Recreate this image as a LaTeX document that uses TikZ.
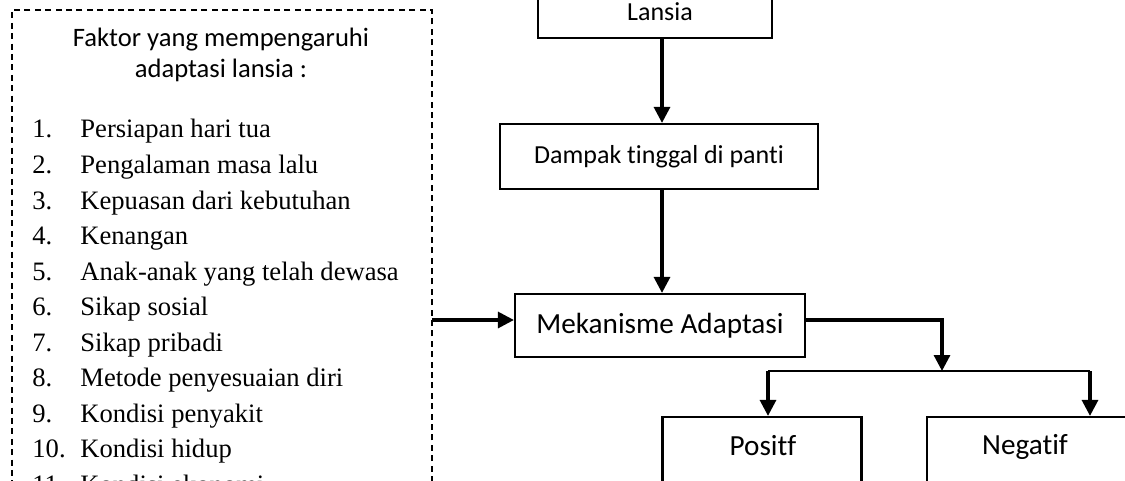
\documentclass[tikz,border=0pt]{standalone}
\usepackage{fontspec}
\setmainfont{Liberation Serif}
\newfontfamily\calfont[Ligatures={NoCommon}]{Carlito}
\usetikzlibrary{arrows.meta}
\begin{document}
\begin{tikzpicture}[x=0.5pt,y=-0.5pt,
 box/.style={draw, line width=1.1pt, inner sep=0pt},
 dashbox/.style={draw, line width=0.8pt, dash pattern=on 3pt off 2.2pt, inner sep=0pt},
 arr/.style={line width=1.6pt, -{Triangle[length=8pt,width=8pt]}},
 bar/.style={line width=1.2pt},
 lbl/.style={font=\calfont\fontsize{13}{15}\selectfont, inner sep=0pt},
 biglbl/.style={font=\calfont\fontsize{14.6}{17}\selectfont, inner sep=0pt},
 titlelbl/.style={font=\calfont\fontsize{13.3}{16}\selectfont, inner sep=0pt, anchor=base},
 item/.style={font=\fontsize{13.3}{16}\selectfont, anchor=base west, inner sep=0pt},
]
\useasboundingbox (0,0) rectangle (1125,481);
\clip (0,0) rectangle (1125,481);

% dashed factor box (cut at the bottom)
\node[dashbox, minimum width=210pt, minimum height=260pt] (faktor) at (222,270) {};
\node[titlelbl] (judul1) at (221,47) {Faktor yang mempengaruhi};
\node[titlelbl] (judul2) at (221,78) {adaptasi lansia :};
\foreach \i/\t in {1/Persiapan hari tua, 2/Pengalaman masa lalu, 3/Kepuasan dari kebutuhan,
  4/Kenangan, 5/Anak-anak yang telah dewasa, 6/Sikap sosial, 7/Sikap pribadi,
  8/Metode penyesuaian diri, 9/Kondisi penyakit, 10/Kondisi hidup, 11/Kondisi ekonomi}{
  \node[item] (num\i) at (32,{138+(\i-1)*35.5}) {\i.};
  \node[item] (txt\i) at (80,{138+(\i-1)*35.5}) {\t};
}

% right-hand flow
\node[box, minimum width=117pt, minimum height=32pt] (lansia) at (655,6) {};
\node[lbl] (lansiaT) at (660,12) {Lansia};
\node[box, minimum width=159pt, minimum height=32.5pt] (dampak) at (659,156.5) {};
\node[lbl] (dampakT) at (dampak.center) {Dampak tinggal di panti};
\node[box, minimum width=145pt, minimum height=31.5pt] (mek) at (660,325.5) {};
\node[biglbl] (mekT) at (mek.center) {Mekanisme Adaptasi};
\node[box, minimum width=99.5pt, minimum height=60pt] (positf) at (762,477) {};
\node[biglbl] (positfT) at (763,446) {Positf};
\node[box, minimum width=100pt, minimum height=60pt] (negatif) at (1027,477) {};
\node[biglbl] (negatifT) at (1025,447) {Negatif};

\coordinate (vx) at (662,0);
\coordinate (in) at (432,320);
\coordinate (split) at (942,371);
\coordinate (bl) at (768,371);
\coordinate (br) at (1090,371);

\draw[arr] (vx |- lansia.south) -- (vx |- dampak.north);
\draw[arr] (vx |- dampak.south) -- (vx |- mek.north);
\draw[arr] (in) -- (in -| mek.west);
\draw[arr] ([yshift=2.75pt]mek.east) -| (split);
\draw[bar] (bl) -- (br);
\draw[arr] (bl) -- (bl |- positf.north);
\draw[arr] (br) -- (br |- negatif.north);
\end{tikzpicture}
\end{document}
